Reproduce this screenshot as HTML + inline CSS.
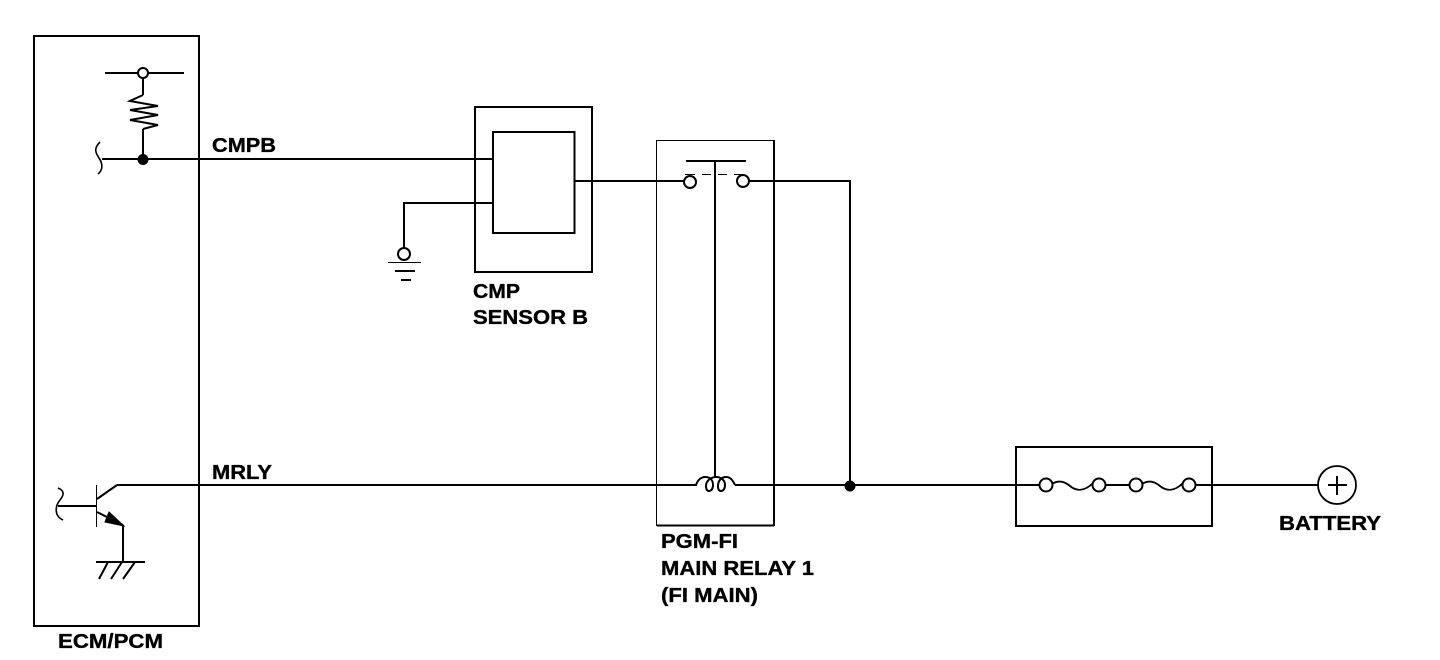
<!DOCTYPE html>
<html><head><meta charset="utf-8"><style>
html,body{margin:0;padding:0;background:#fff}
svg{display:block}
text{font-family:"Liberation Sans",sans-serif;font-weight:bold;font-size:20px;fill:#000;stroke:#000;stroke-width:.35px}
</style></head><body>
<svg width="1440" height="660" viewBox="0 0 1440 660" xmlns="http://www.w3.org/2000/svg">
<g fill="none" stroke="#000" stroke-width="2">
<!-- Boxes -->
<g shape-rendering="crispEdges">
<rect x="34" y="36" width="165" height="590"/>
<rect x="475" y="107" width="117" height="165"/>
<rect x="493" y="132" width="81.500" height="101"/>
<path d="M656.500 140.500H774V525.500H656.500Z" stroke-width="1"/>
<path d="M774 140V526" stroke-width="2"/>
<path d="M657 525.500H774" stroke-width="2"/>
<rect x="1016" y="447" width="196" height="79"/>
<path d="M105 73H184"/>
<path d="M102 159H493"/>
<path d="M96.500 485V527" stroke-width="1"/>
<path d="M58 506H96"/>
<path d="M117 485H697"/>
<path d="M123 525V562"/>
<path d="M96 562H145"/>
<path d="M493 203H404V248"/>
<path d="M388 262.500H421" stroke-width="1"/>
<path d="M395 271H415"/>
<path d="M401 280H411"/>
<path d="M575 181H684"/>
<path d="M686 161H746"/>
<path d="M715 161V477"/>
<path d="M685 174.500H695M702 174.500H711M718 174.500H727M734 174.500H742" stroke-width="1"/>
<path d="M749 181H850V486"/>
<path d="M735 485H1040"/>
<path d="M1105 485H1130"/>
<path d="M1195 485H1318"/>
<path d="M1337 476V495M1328 485H1347"/>
<path d="M143 79V95M143 129V159"/>
</g>
<path d="M143 95L130 101L158 106L130 110L158 115L130 120L158 125L143 129"/>
<path d="M100 142C94 148 95 152 99 158C103 164 103 170 98 174" stroke-width="1.600"/>
<path d="M58 488C65 491 64 495 60 500C55 506 54 516 63 520" stroke-width="1.600"/>
<path d="M97 499L117 485"/>
<path d="M97 512L123 525"/>
<path d="M108 562L99 579M122 562L111 579M135 562L123 579"/>
<!-- Coil -->
<path d="M696 485C698 479 702 477 705 477C711 477 713 481 713 485C713 489 711 491 709 491C707 491 706 489 706 486C706 480 712 477 716 477C722 477 725 481 725 485C725 489 723 491 721 491C719 491 718 489 718 486C718 480 722 477 726 477C731 477 733 481 735 485"/>
<!-- Fuses -->
<path d="M1052 484C1058 480 1064 481 1070 486C1076 491 1084 492 1093 483" stroke-width="1.800"/>
<path d="M1142 484C1148 480 1154 481 1160 486C1166 491 1174 492 1183 483" stroke-width="1.800"/>
</g>
<g fill="#fff" stroke="#000" stroke-width="2">
<circle cx="143" cy="73" r="5"/>
<circle cx="404" cy="254" r="6"/>
<circle cx="690" cy="182" r="6"/>
<circle cx="743" cy="181" r="6"/>
<circle cx="1046" cy="485" r="6.500"/>
<circle cx="1099" cy="485" r="6.500"/>
<circle cx="1136" cy="485" r="6.500"/>
<circle cx="1189" cy="485" r="6.500"/>
<circle cx="1337" cy="485" r="19" fill="none" stroke-width="1.800"/>
</g>
<circle cx="143" cy="159.500" r="5.500"/>
<circle cx="850" cy="486" r="5.500"/>
<path d="M109 512L124 526L105 522Z" stroke="#000" stroke-width="1"/>
<text x="212" y="152" textLength="64" lengthAdjust="spacingAndGlyphs">CMPB</text>
<text x="212" y="479" textLength="60" lengthAdjust="spacingAndGlyphs">MRLY</text>
<text x="58" y="648" textLength="105" lengthAdjust="spacingAndGlyphs">ECM/PCM</text>
<text x="473" y="298" textLength="47" lengthAdjust="spacingAndGlyphs">CMP</text>
<text x="473" y="324" textLength="115" lengthAdjust="spacingAndGlyphs">SENSOR B</text>
<text x="661" y="548" textLength="77" lengthAdjust="spacingAndGlyphs">PGM-FI</text>
<text x="661" y="575" textLength="153" lengthAdjust="spacingAndGlyphs">MAIN RELAY 1</text>
<text x="661" y="602" textLength="97" lengthAdjust="spacingAndGlyphs">(FI MAIN)</text>
<text x="1279" y="530" textLength="102" lengthAdjust="spacingAndGlyphs">BATTERY</text>
</svg>
</body></html>
